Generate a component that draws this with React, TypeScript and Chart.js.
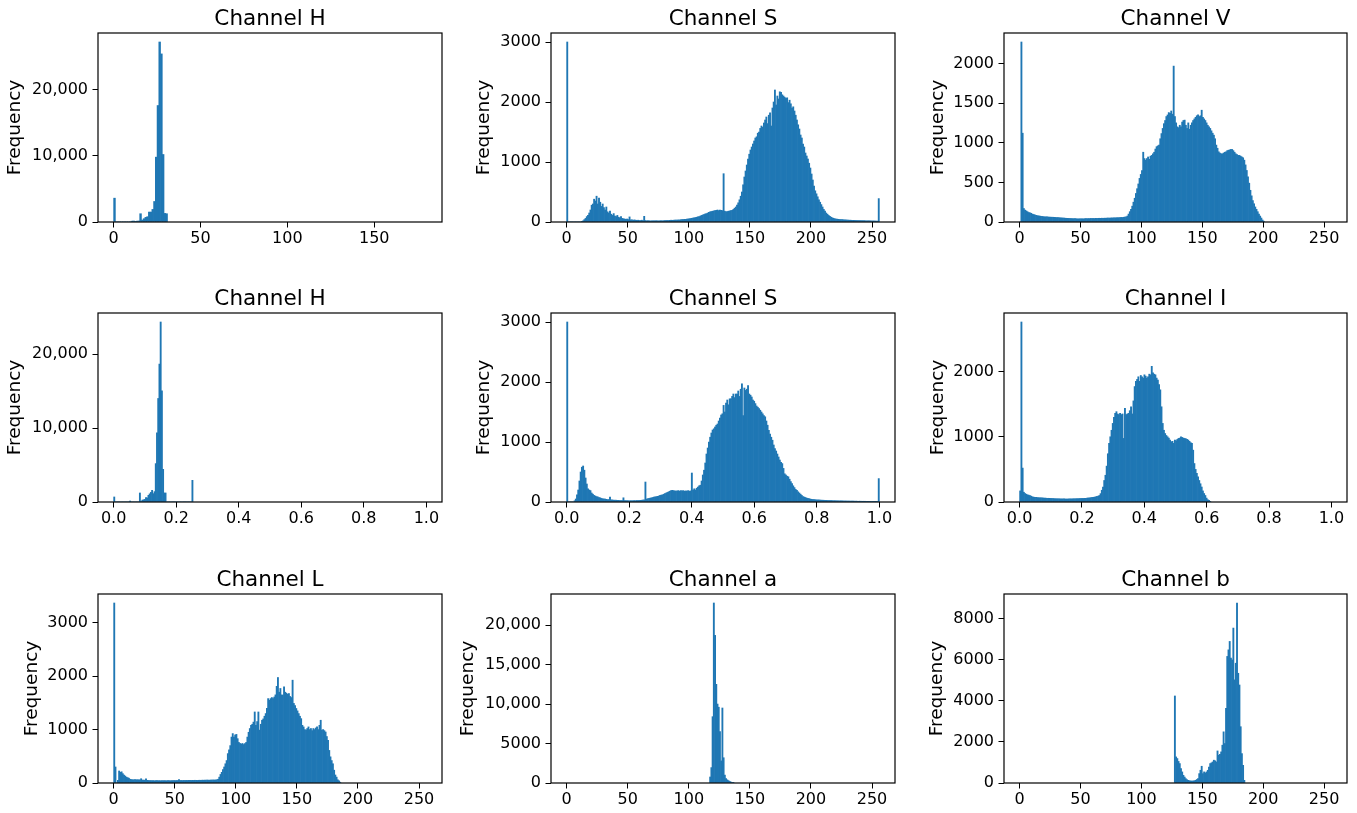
import React, { useEffect, useRef } from "react";
import { Chart, registerables } from "chart.js";

Chart.register(...registerables);

const FONT = "'DejaVu Sans', 'Liberation Sans', sans-serif";
Chart.defaults.font.family = FONT;

// ---------------- DATA (bin counts) ----------------
// HSV (OpenCV 8-bit): H has 180 bins, S and V 256 bins
const hsvH_start = 0;
const hsvH = [
  3600, 0, 0, 0, 0, 0, 0, 0, 0, 0,
  120, 150, 100, 130, 150, 1250, 300, 500, 700, 800,
  1500, 1500, 1900, 3100, 9800, 17600, 27200, 25400, 10200, 1300,
  1250,
];

const hsvS_start = 0;
const hsvS = [
  3000, 0, 0, 0, 0, 0, 0, 0, 0, 0,
  0, 0, 5, 20, 40, 60, 90, 110, 150, 200,
  280, 300, 380, 350, 430, 300, 400, 330, 260, 300,
  240, 200, 250, 170, 150, 180, 130, 110, 140, 100,
  90, 110, 80, 70, 90, 60, 55, 50, 45, 50,
  40, 85, 35, 35, 30, 35, 30, 28, 30, 25,
  25, 30, 25, 95, 25, 20, 22, 20, 18, 20,
  20, 18, 20, 22, 20, 18, 20, 22, 20, 22,
  24, 25, 26, 25, 28, 30, 28, 30, 32, 30,
  32, 35, 34, 38, 40, 42, 45, 44, 48, 50,
  55, 58, 62, 66, 70, 75, 80, 85, 90, 100,
  110, 118, 125, 135, 140, 150, 160, 170, 175, 180,
  185, 190, 195, 200, 190, 200, 195, 190, 805, 180,
  170, 175, 180, 185, 190, 195, 210, 230, 250, 280,
  320, 370, 430, 500, 620, 750, 850, 950, 1050, 1130,
  1200, 1250, 1300, 1350, 1400, 1420, 1480, 1500, 1560, 1600,
  1580, 1650, 1700, 1750, 1640, 1780, 1820, 1600, 1900, 2000,
  2200, 1950, 2100, 2050, 2170, 2160, 2120, 2100, 2080, 2060,
  2070, 1990, 2030, 1970, 1900, 1920, 1850, 1780, 1700, 1620,
  1550, 1450, 1400, 1300, 1250, 1150, 1100, 1050, 980, 900,
  800, 700, 600, 520, 470, 420, 370, 330, 290, 250,
  210, 180, 150, 130, 110, 95, 80, 70, 62, 55,
  50, 48, 45, 42, 40, 40, 38, 36, 35, 34,
  32, 30, 30, 28, 28, 27, 26, 25, 25, 24,
  24, 23, 22, 22, 21, 20, 20, 20, 19, 18,
  18, 17, 16, 15, 15, 390,
];

const hsvV_start = 0;
const hsvV = [
  0, 2270, 1120, 170, 150, 140, 130, 120, 115, 110,
  100, 95, 90, 85, 80, 78, 75, 72, 70, 68,
  66, 65, 64, 63, 62, 61, 60, 60, 59, 58,
  56, 55, 54, 53, 52, 50, 50, 48, 47, 46,
  45, 44, 44, 43, 42, 42, 41, 40, 40, 40,
  40, 41, 40, 42, 43, 42, 44, 43, 45, 44,
  45, 44, 46, 45, 46, 47, 46, 48, 47, 48,
  48, 49, 50, 49, 50, 52, 51, 53, 52, 54,
  55, 54, 56, 58, 57, 60, 62, 65, 75, 100,
  130, 160, 200, 250, 300, 360, 420, 480, 550, 600,
  650, 880, 800, 780, 800, 820, 790, 830, 840, 860,
  880, 920, 950, 960, 970, 1050, 1115, 1180, 1240, 1280,
  1330, 1350, 1380, 1370, 1400, 1360, 1966, 1330, 1250, 1200,
  1190, 1220, 1200, 1260, 1280, 1285, 1220, 1180, 1250, 1170,
  1220, 1250, 1280, 1300, 1320, 1340, 1350, 1330, 1340, 1410,
  1320, 1300, 1280, 1250, 1220, 1200, 1180, 1150, 1120, 1095,
  1050, 970, 930, 885, 870, 860, 860, 870, 880, 885,
  900, 905, 910, 915, 915, 900, 880, 860, 850, 840,
  840, 830, 820, 810, 780, 720, 650, 570, 490, 400,
  330, 270, 230, 190, 160, 130, 100, 75, 50, 25,
  10,
];

// HSI (float 0..1, 256 bins)
const hsiH_start = 0;
const hsiH = [
  680, 0, 0, 0, 0, 0, 0, 0, 0, 0,
  0, 0, 0, 135, 0, 0, 0, 0, 0, 0,
  0, 1220, 60, 250, 300, 350, 600, 550, 900, 1100,
  1300, 1580, 1130, 1400, 5190, 9350, 14000, 18650, 24340, 15030,
  4420, 1220, 1220, 0, 0, 0, 0, 0, 0, 0,
  0, 0, 0, 0, 0, 0, 0, 0, 0, 0,
  0, 0, 0, 0, 2930,
];

const hsiS_start = 0;
const hsiS = [
  3000, 0, 0, 0, 0, 0, 20, 50, 120, 200,
  350, 500, 580, 600, 530, 400, 300, 220, 200, 190,
  150, 130, 110, 100, 90, 85, 75, 70, 60, 55,
  50, 50, 45, 40, 40, 80, 35, 35, 30, 30,
  30, 28, 28, 25, 25, 25, 70, 25, 22, 22,
  22, 20, 22, 20, 22, 24, 22, 25, 24, 26,
  28, 30, 32, 35, 333, 50, 55, 60, 65, 70,
  75, 80, 85, 90, 95, 100, 110, 115, 120, 130,
  140, 150, 160, 170, 180, 190, 195, 190, 185, 180,
  185, 190, 180, 190, 185, 190, 180, 185, 180, 190,
  180, 185, 483, 200, 220, 200, 230, 250, 270, 280,
  350, 450, 530, 650, 800, 900, 1000, 1080, 1150, 1200,
  1220, 1250, 1280, 1300, 1350, 1400, 1450, 1470, 1610, 1500,
  1650, 1700, 1620, 1720, 1720, 1760, 1800, 1740, 1800, 1800,
  1850, 1760, 1880, 1970, 1440, 1900, 1860, 1880, 1940, 1800,
  1780, 1750, 1700, 1680, 1640, 1600, 1580, 1555, 1530, 1500,
  1470, 1440, 1420, 1350, 1280, 1195, 1130, 1080, 1030, 950,
  890, 850, 800, 750, 700, 660, 640, 560, 470, 450,
  430, 420, 380, 340, 305, 270, 240, 210, 195, 170,
  150, 130, 110, 90, 83, 75, 65, 60, 55, 50,
  45, 42, 40, 38, 36, 35, 34, 32, 31, 30,
  29, 28, 27, 26, 25, 24, 24, 23, 22, 22,
  21, 20, 20, 19, 19, 18, 18, 17, 17, 16,
  16, 16, 15, 15, 15, 14, 14, 14, 13, 13,
  13, 12, 12, 12, 12, 11, 11, 11, 10, 10,
  10, 10, 10, 10, 10, 390,
];

const hsiI_start = 0;
const hsiI = [
  170, 2760, 520, 150, 130, 120, 110, 105, 100, 90,
  80, 75, 72, 70, 68, 67, 65, 64, 63, 62,
  60, 59, 58, 57, 56, 55, 54, 53, 52, 51,
  50, 50, 49, 48, 48, 47, 47, 46, 46, 46,
  47, 48, 48, 49, 50, 50, 51, 52, 52, 53,
  54, 55, 55, 56, 58, 60, 62, 64, 66, 70,
  72, 75, 80, 85, 90, 100, 128, 180, 230, 330,
  410, 550, 740, 900, 1000, 1100, 1205, 1300, 1360, 1385,
  1350, 1340, 1360, 1340, 1350, 975, 1435, 1340, 1350, 1360,
  1400, 1460, 1350, 1550, 1770, 1850, 1880, 1920, 1850, 1940,
  1920, 1900, 1950, 1930, 1900, 1920, 1960, 1950, 2080, 1980,
  1960, 1950, 1900, 1870, 1800, 1720, 1460, 1205, 1100, 1050,
  1020, 1000, 980, 950, 923, 930, 900, 950, 940, 960,
  975, 980, 1000, 990, 980, 975, 970, 960, 950, 930,
  910, 900, 795, 590, 500, 440, 385, 330, 280, 230,
  170, 130, 100, 60, 35, 25, 10,
];

// Lab (OpenCV 8-bit, 256 bins)
const labL_start = 0;
const labL = [
  3370, 300, 0, 50, 225, 200, 210, 175, 150, 130,
  110, 100, 90, 70, 65, 62, 60, 65, 60, 62,
  60, 58, 80, 55, 55, 52, 80, 50, 48, 46,
  45, 44, 46, 42, 45, 44, 43, 45, 42, 44,
  43, 45, 44, 42, 46, 44, 43, 45, 44, 46,
  45, 47, 46, 62, 47, 48, 46, 48, 47, 49,
  48, 50, 49, 48, 50, 49, 51, 50, 49, 51,
  52, 50, 53, 52, 54, 53, 55, 54, 53, 56,
  55, 57, 56, 58, 60, 70, 110, 160, 200, 250,
  300, 360, 420, 550, 620, 700, 860, 925, 860, 900,
  910, 830, 760, 740, 730, 740, 720, 740, 760, 860,
  950, 1020, 1080, 1100, 1140, 1330, 1080, 1150, 1330, 990,
  1100, 1175, 1200, 1250, 1300, 1400, 1580, 1550, 1580, 1600,
  1580, 1610, 1650, 1810, 1975, 1700, 1770, 1650, 1645, 1800,
  1700, 1680, 1660, 1675, 1620, 1600, 1925, 1490, 1450, 1395,
  1350, 1300, 1250, 1205, 1080, 1050, 1000, 990, 1020, 1050,
  1000, 1020, 980, 1020, 1000, 1030, 1050, 1000, 1080, 1175,
  990, 1000, 980, 955, 870, 800, 610, 490, 420, 360,
  240, 150, 110, 60, 40, 15,
];

const labA_start = 117;
const labA = [
  760, 1950, 8400, 22800, 18700, 12500, 10000, 9600, 6500, 2800,
  9500, 3200, 1000, 550, 400, 300, 200, 120, 60, 30,
];

const labB_start = 127;
const labB = [
  4235, 1270, 1190,
  1050, 945, 700, 540, 375, 290, 210, 160, 130, 110,
  100, 95, 100, 110, 130, 170, 210, 456, 620, 815,
  456, 540, 490, 540, 620, 780, 945, 980, 1025, 1110,
  1080, 1025, 1560, 1350, 1400, 1515, 1840, 2490, 1920, 3630,
  6160, 6480, 6890, 6080, 5990, 7540, 5020, 5830, 8760, 5340,
  4770, 2740, 1430, 860, 130,
];

// Tick labels
const xTicksHue180 = [0, 50, 100, 150];
const xTicks8bit = [0, 50, 100, 150, 200, 250];
const xTicksUnit = [0, 0.2, 0.4, 0.6, 0.8, 1.0];

const yTicksHsvH = [0, 10000, 20000];
const yTicksHsvS = [0, 1000, 2000, 3000];
const yTicksHsvV = [0, 500, 1000, 1500, 2000];
const yTicksHsiH = [0, 10000, 20000];
const yTicksHsiS = [0, 1000, 2000, 3000];
const yTicksHsiI = [0, 1000, 2000];
const yTicksLabL = [0, 1000, 2000, 3000];
const yTicksLabA = [0, 5000, 10000, 15000, 20000];
const yTicksLabB = [0, 2000, 4000, 6000, 8000];

const titles = [
  "Channel H", "Channel S", "Channel V",
  "Channel H", "Channel S", "Channel I",
  "Channel L", "Channel a", "Channel b",
];

// ---------------- LAYOUT ----------------
type Kind = "hue180" | "bit8" | "unit";

const rangeFor = (k: Kind): [number, number, number] => {
  // [lo, hi, binWidth]
  if (k === "hue180") return [0, 180, 1];
  if (k === "bit8") return [0, 256, 1];
  return [0, 1, 1 / 256];
};

interface PanelDef {
  title: string;
  counts: number[];
  start: number;
  kind: Kind;
  xTicks: number[];
  yTicks: number[];
  plotL: number;
  plotT: number;
  plotW: number;
  ylabX: number;
}

const COLS = [98, 551, 1004];
const ROWS = [33, 313, 594];
const PLOT_W = 344;
const PLOT_H = 189;

const panels: PanelDef[] = [
  { title: titles[0], counts: hsvH, start: hsvH_start, kind: "hue180", xTicks: xTicksHue180, yTicks: yTicksHsvH, plotL: COLS[0], plotT: ROWS[0], plotW: PLOT_W, ylabX: 17.5 },
  { title: titles[1], counts: hsvS, start: hsvS_start, kind: "bit8", xTicks: xTicks8bit, yTicks: yTicksHsvS, plotL: COLS[1], plotT: ROWS[0], plotW: PLOT_W, ylabX: 485.8 },
  { title: titles[2], counts: hsvV, start: hsvV_start, kind: "bit8", xTicks: xTicks8bit, yTicks: yTicksHsvV, plotL: COLS[2], plotT: ROWS[0], plotW: 343, ylabX: 940.5 },
  { title: titles[3], counts: hsiH, start: hsiH_start, kind: "unit", xTicks: xTicksUnit, yTicks: yTicksHsiH, plotL: COLS[0], plotT: ROWS[1], plotW: PLOT_W, ylabX: 17.5 },
  { title: titles[4], counts: hsiS, start: hsiS_start, kind: "unit", xTicks: xTicksUnit, yTicks: yTicksHsiS, plotL: COLS[1], plotT: ROWS[1], plotW: PLOT_W, ylabX: 485.8 },
  { title: titles[5], counts: hsiI, start: hsiI_start, kind: "unit", xTicks: xTicksUnit, yTicks: yTicksHsiI, plotL: COLS[2], plotT: ROWS[1], plotW: 343, ylabX: 940.5 },
  { title: titles[6], counts: labL, start: labL_start, kind: "bit8", xTicks: xTicks8bit, yTicks: yTicksLabL, plotL: COLS[0], plotT: ROWS[2], plotW: PLOT_W, ylabX: 34 },
  { title: titles[7], counts: labA, start: labA_start, kind: "bit8", xTicks: xTicks8bit, yTicks: yTicksLabA, plotL: COLS[1], plotT: ROWS[2], plotW: PLOT_W, ylabX: 470 },
  { title: titles[8], counts: labB, start: labB_start, kind: "bit8", xTicks: xTicks8bit, yTicks: yTicksLabB, plotL: COLS[2], plotT: ROWS[2], plotW: 343, ylabX: 939 },
];

const BAR_COLOR = "#1f77b4";
const TITLE_SIZE = 21.5;
const LABEL_SIZE = 18.5;
const TICK_SIZE = 16;
const TITLE_BLOCK = 28; // padding top 4 + size 21.5 + bottom 2.5
const XAXIS_H = 32;
const RIGHT_PAD = 24;

const fmtY = (v: number) => (v >= 10000 ? v.toLocaleString("en-US") : String(v));

const framePlugin = {
  id: "frame",
  afterDraw(chart: any) {
    const { ctx, chartArea: a } = chart;
    ctx.save();
    ctx.strokeStyle = "#000";
    ctx.lineWidth = 1.2;
    ctx.strokeRect(a.left, a.top, a.right - a.left, a.bottom - a.top);
    ctx.restore();
  },
};

function HistPanel({ p }: { p: PanelDef }) {
  const ref = useRef<HTMLCanvasElement>(null);
  const canvasL = Math.round(p.ylabX - 11.15);
  const yAxisW = p.plotL - canvasL;
  const canvasT = p.plotT - TITLE_BLOCK;
  const cw = yAxisW + p.plotW + RIGHT_PAD;
  const ch = TITLE_BLOCK + PLOT_H + XAXIS_H;

  useEffect(() => {
    if (!ref.current) return;
    const [lo, hi, bw] = rangeFor(p.kind);
    const margin = (hi - lo) * 0.05;
    const points = p.counts.map((c, i) => ({ x: (p.start + i + 0.5) * bw, y: c }));
    const yMax = Math.max(...p.counts) * 1.05;
    const isUnit = p.kind === "unit";

    const chart = new Chart(ref.current, {
      type: "bar",
      data: {
        datasets: [
          {
            data: points as any,
            backgroundColor: BAR_COLOR,
            borderWidth: 0,
            barPercentage: 1,
            categoryPercentage: 1,
            grouped: false,
          } as any,
        ],
      },
      options: {
        responsive: false,
        animation: false,
        events: [],
        layout: { padding: { left: 0, top: 0, right: RIGHT_PAD, bottom: 0 } },
        plugins: {
          legend: { display: false },
          tooltip: { enabled: false },
          title: {
            display: true,
            text: p.title,
            color: "#000",
            fullSize: false,
            font: { family: FONT, size: TITLE_SIZE, weight: "normal", lineHeight: 1 },
            padding: { top: 4, bottom: 2.5 },
          },
        },
        scales: {
          x: {
            type: "linear",
            min: lo - margin,
            max: hi + margin,
            offset: false,
            afterBuildTicks: (s: any) => {
              s.ticks = p.xTicks.map((v) => ({ value: v }));
            },
            afterFit: (s: any) => {
              s.height = XAXIS_H;
            },
            grid: {
              display: true,
              drawOnChartArea: false,
              drawTicks: true,
              tickLength: 5.5,
              color: "#000",
              lineWidth: 1,
              offset: false,
            },
            border: { display: false },
            ticks: {
              color: "#000",
              padding: 3,
              maxRotation: 0,
              autoSkip: false,
              font: { family: FONT, size: TICK_SIZE, lineHeight: 1 },
              callback: (v: any) => (isUnit ? Number(v).toFixed(1) : String(v)),
            },
          },
          y: {
            type: "linear",
            min: 0,
            max: yMax,
            afterBuildTicks: (s: any) => {
              s.ticks = p.yTicks.map((v) => ({ value: v }));
            },
            afterFit: (s: any) => {
              s.width = yAxisW;
            },
            grid: {
              display: true,
              drawOnChartArea: false,
              drawTicks: true,
              tickLength: 5.5,
              color: "#000",
              lineWidth: 1,
            },
            border: { display: false },
            title: {
              display: true,
              text: "Frequency",
              color: "#000",
              padding: { top: 0, bottom: 0 },
              font: { family: FONT, size: LABEL_SIZE, lineHeight: 1 },
            },
            ticks: {
              color: "#000",
              padding: 4.5,
              autoSkip: false,
              font: { family: FONT, size: TICK_SIZE, lineHeight: 1 },
              callback: (v: any) => fmtY(Number(v)),
            },
          },
        },
      } as any,
      plugins: [framePlugin],
    });
    return () => chart.destroy();
  }, []);

  return (
    <canvas
      ref={ref}
      width={cw}
      height={ch}
      style={{ position: "absolute", left: canvasL, top: canvasT, width: cw, height: ch }}
    />
  );
}

export default function App() {
  return (
    <div
      style={{
        position: "absolute",
        left: 0,
        top: 0,
        width: 1357,
        height: 813,
        overflow: "hidden",
        background: "#fff",
      }}
    >
      {panels.map((p, i) => (
        <HistPanel key={i} p={p} />
      ))}
    </div>
  );
}
